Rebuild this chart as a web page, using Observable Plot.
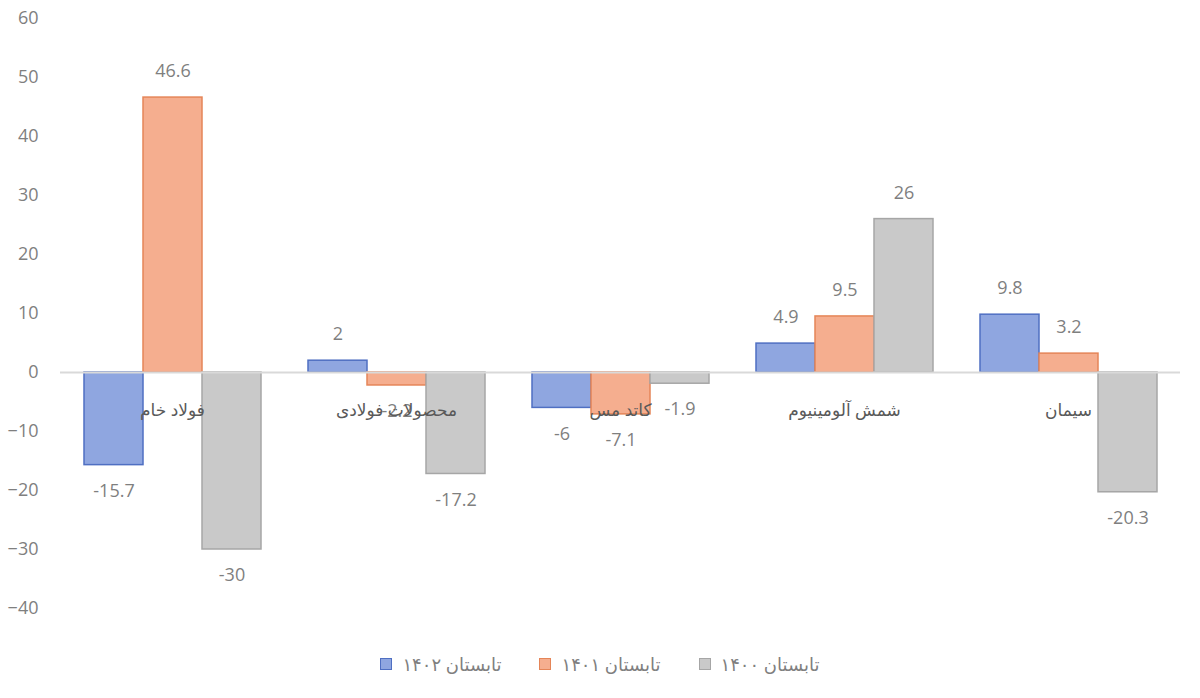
<!DOCTYPE html>
<html>
<head>
<meta charset="utf-8">
<script src="https://cdn.jsdelivr.net/npm/d3@7"></script>
<script src="https://cdn.jsdelivr.net/npm/@observablehq/plot@0.6"></script>
<style>
  body { margin: 0; background: #fff; font-family: "Open Sans", "DejaVu Sans", sans-serif; }
  #legend { display: flex; justify-content: center; align-items: center; gap: 38px; height: 40px; font-size: 18px; color: #7f7f7f; direction: ltr; }
  .item { display: flex; align-items: center; gap: 10px; }
  .sw { width: 12px; height: 12px; box-sizing: border-box; border: 1px solid; }
</style>
</head>
<body>
<div id="chart"></div>
<div id="legend"></div>
<script>
const categories = ["فولاد خام", "محصولات فولادی", "کاتد مس", "شمش آلومینیوم", "سیمان"];
const series = ["تابستان ۱۴۰۲", "تابستان ۱۴۰۱", "تابستان ۱۴۰۰"];
const values1402 = [-15.7, 2, -6, 4.9, 9.8];
const values1401 = [46.6, -2.2, -7.1, 9.5, 3.2];
const values1400 = [-30, -17.2, -1.9, 26, -20.3];
const yTicks = [-40, -30, -20, -10, 0, 10, 20, 30, 40, 50, 60];
const fills = ["#8fa6e0", "#f5ae8f", "#c9c9c9"];
const strokes = ["#4f6fc2", "#e58558", "#a6a6a6"];

const allValues = [values1402, values1401, values1400];
const data = [];
categories.forEach((c, i) => {
  series.forEach((s, j) => data.push({cat: c, series: s, value: allValues[j][i]}));
});

const labelColor = "#7f7f7f";
const plot = Plot.plot({
  width: 1200,
  height: 644,
  marginTop: 18,
  marginBottom: 36,
  marginLeft: 60,
  marginRight: 20,
  style: {fontFamily: "'Open Sans', 'DejaVu Sans', sans-serif", fontSize: "18px", color: labelColor},
  fx: {domain: categories, paddingInner: 0, paddingOuter: 0, axis: null, label: null},
  x: {domain: series, paddingInner: 0, paddingOuter: 0.3667, axis: null, label: null},
  y: {domain: [-40, 60], ticks: yTicks, tickSize: 0, tickPadding: 22, label: null, tickFormat: d => String(d)},
  color: {domain: series, range: fills},
  marks: [
    Plot.barY(data, {fx: "cat", x: "series", y: "value", fill: "series", stroke: d => strokes[series.indexOf(d.series)], strokeWidth: 1.5, inset: 0}),
    Plot.ruleY([0], {stroke: "#d9d9d9", strokeWidth: 2}),
    Plot.text(data.filter(d => d.value >= 0), {fx: "cat", x: "series", y: "value", text: d => String(d.value), dy: -26, fill: labelColor, fontSize: 18}),
    Plot.text(data.filter(d => d.value < 0), {fx: "cat", x: "series", y: "value", text: d => String(d.value), dy: 26, fill: labelColor, fontSize: 18}),
    Plot.text(categories, {fx: d => d, y: () => 0, text: d => d, dy: 38, fill: "#595959", fontSize: 17}),
    Plot.axisY({ticks: yTicks, tickSize: 0, tickPadding: 22, fill: labelColor, fontSize: 18, label: null})
  ]
});
document.getElementById("chart").appendChild(plot);

const legend = document.getElementById("legend");
series.forEach((s, j) => {
  const it = document.createElement("div");
  it.className = "item";
  const sw = document.createElement("span");
  sw.className = "sw";
  sw.style.background = fills[j];
  sw.style.borderColor = strokes[j];
  const t = document.createElement("span");
  t.dir = "rtl";
  t.textContent = s;
  it.appendChild(sw);
  it.appendChild(t);
  legend.appendChild(it);
});
</script>
</body>
</html>
